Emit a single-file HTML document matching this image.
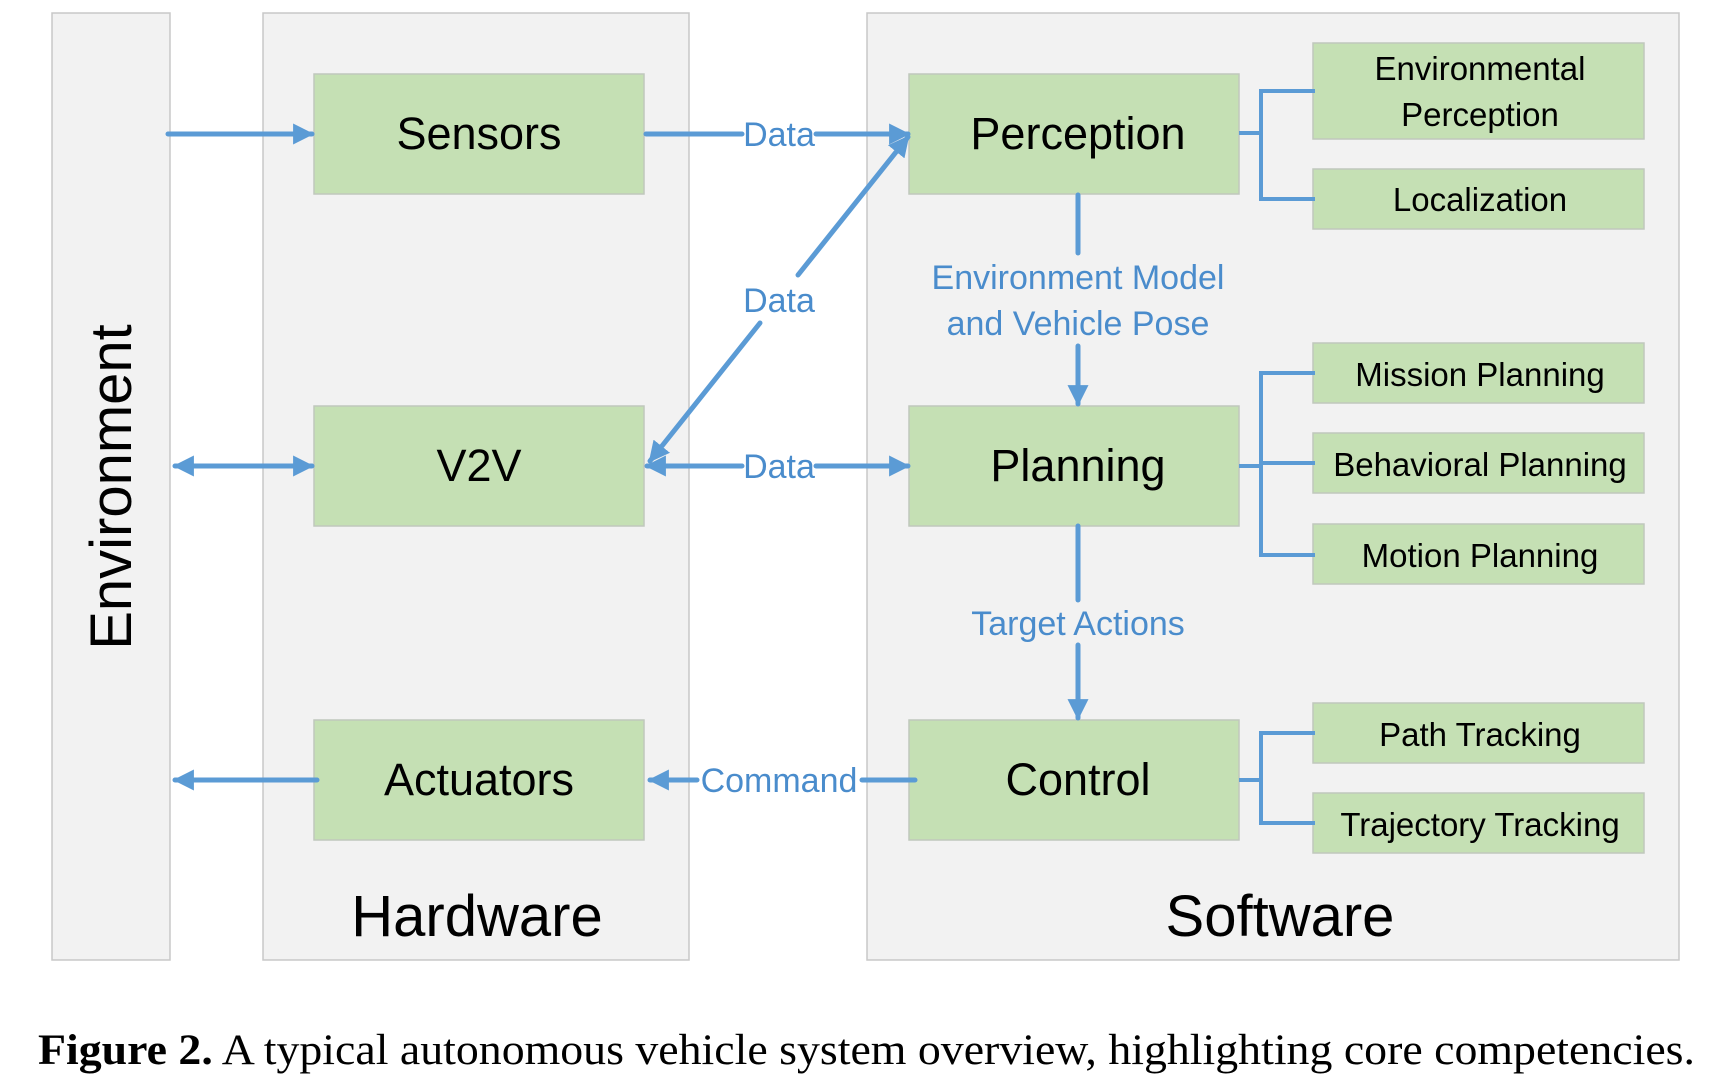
<!DOCTYPE html>
<html><head><meta charset="utf-8"><style>
html,body{margin:0;padding:0;background:#fff;}
svg{display:block;}
.s{font-family:"Liberation Sans",sans-serif;}
.cap{font-family:"Liberation Serif",serif;}
</style></head><body>
<svg width="1726" height="1074" viewBox="0 0 1726 1074" xmlns="http://www.w3.org/2000/svg">
<defs>
<marker id="ah" viewBox="0 0 10 10" refX="9" refY="5" markerWidth="4.2" markerHeight="4.2" markerUnits="strokeWidth" orient="auto-start-reverse">
<path d="M0,0 L10,5 L0,10 z" fill="#5b9bd5"/></marker>
</defs>
<rect x="52" y="13" width="118" height="947" fill="#f2f2f2" stroke="#c8c8c8" stroke-width="1.5"/>
<rect x="263" y="13" width="426" height="947" fill="#f2f2f2" stroke="#c8c8c8" stroke-width="1.5"/>
<rect x="867" y="13" width="812" height="947" fill="#f2f2f2" stroke="#c8c8c8" stroke-width="1.5"/>
<g class="s">
<text transform="translate(131,487) rotate(-90)" text-anchor="middle" font-size="58" fill="#000">Environment</text>
<text x="477" y="936" text-anchor="middle" font-size="58" fill="#000">Hardware</text>
<text x="1280" y="936" text-anchor="middle" font-size="58" fill="#000">Software</text>
</g>
<g fill="#c5e0b4" stroke="#c0c8bc" stroke-width="1.5">
<rect x="314" y="74" width="330" height="120"/>
<rect x="314" y="406" width="330" height="120"/>
<rect x="314" y="720" width="330" height="120"/>
<rect x="909" y="74" width="330" height="120"/>
<rect x="909" y="406" width="330" height="120"/>
<rect x="909" y="720" width="330" height="120"/>
<rect x="1313" y="43" width="331" height="96"/>
<rect x="1313" y="169" width="331" height="60"/>
<rect x="1313" y="343" width="331" height="60"/>
<rect x="1313" y="433" width="331" height="60"/>
<rect x="1313" y="524" width="331" height="60"/>
<rect x="1313" y="703" width="331" height="60"/>
<rect x="1313" y="793" width="331" height="60"/>
</g>
<g class="s" font-size="45" text-anchor="middle" fill="#000">
<text x="479" y="149">Sensors</text>
<text x="479" y="481">V2V</text>
<text x="479" y="795">Actuators</text>
<text x="1078" y="149">Perception</text>
<text x="1078" y="481">Planning</text>
<text x="1078" y="795">Control</text>
</g>
<g class="s" font-size="33" text-anchor="middle" fill="#000">
<text x="1480" y="80">Environmental</text>
<text x="1480" y="126">Perception</text>
<text x="1480" y="211">Localization</text>
<text x="1480" y="386">Mission Planning</text>
<text x="1480" y="476">Behavioral Planning</text>
<text x="1480" y="567">Motion Planning</text>
<text x="1480" y="746">Path Tracking</text>
<text x="1480" y="836">Trajectory Tracking</text>
</g>
<g stroke="#5b9bd5" stroke-width="4" fill="none">
<path d="M1239,133 H1261 M1315,91 H1261 V199 H1315"/>
<path d="M1239,466 H1261 M1315,373 H1261 V555 H1315 M1261,463 H1315"/>
<path d="M1239,780 H1261 M1315,733 H1261 V823 H1315"/>
</g>
<g stroke="#5b9bd5" stroke-width="5" fill="none" stroke-linecap="round">
<line x1="168" y1="134" x2="312" y2="134" marker-end="url(#ah)"/>
<line x1="175" y1="466" x2="312" y2="466" marker-start="url(#ah)" marker-end="url(#ah)"/>
<line x1="317" y1="780" x2="175" y2="780" marker-end="url(#ah)"/>
<line x1="646" y1="134" x2="742" y2="134"/>
<line x1="816" y1="134" x2="908" y2="134" marker-end="url(#ah)"/>
<line x1="647" y1="466" x2="742" y2="466" marker-start="url(#ah)"/>
<line x1="816" y1="466" x2="908" y2="466" marker-end="url(#ah)"/>
<line x1="915" y1="780" x2="862" y2="780"/>
<line x1="697" y1="780" x2="650" y2="780" marker-end="url(#ah)"/>
<line x1="798" y1="275" x2="908" y2="137" marker-end="url(#ah)"/>
<line x1="760" y1="323" x2="650" y2="461" marker-end="url(#ah)"/>
<line x1="1078" y1="195" x2="1078" y2="253"/>
<line x1="1078" y1="346" x2="1078" y2="404" marker-end="url(#ah)"/>
<line x1="1078" y1="526" x2="1078" y2="600"/>
<line x1="1078" y1="645" x2="1078" y2="718" marker-end="url(#ah)"/>
</g>
<g class="s" font-size="34" text-anchor="middle" fill="#4a8ccc">
<text x="779" y="146">Data</text>
<text x="779" y="312">Data</text>
<text x="779" y="478">Data</text>
<text x="779" y="792">Command</text>
<text x="1078" y="289">Environment Model</text>
<text x="1078" y="335">and Vehicle Pose</text>
<text x="1078" y="635">Target Actions</text>
</g>
<text class="cap" x="38" y="1064" font-size="43" fill="#000" textLength="1657" lengthAdjust="spacingAndGlyphs"><tspan font-weight="bold">Figure 2.</tspan> A typical autonomous vehicle system overview, highlighting core competencies.</text>
</svg>
</body></html>
